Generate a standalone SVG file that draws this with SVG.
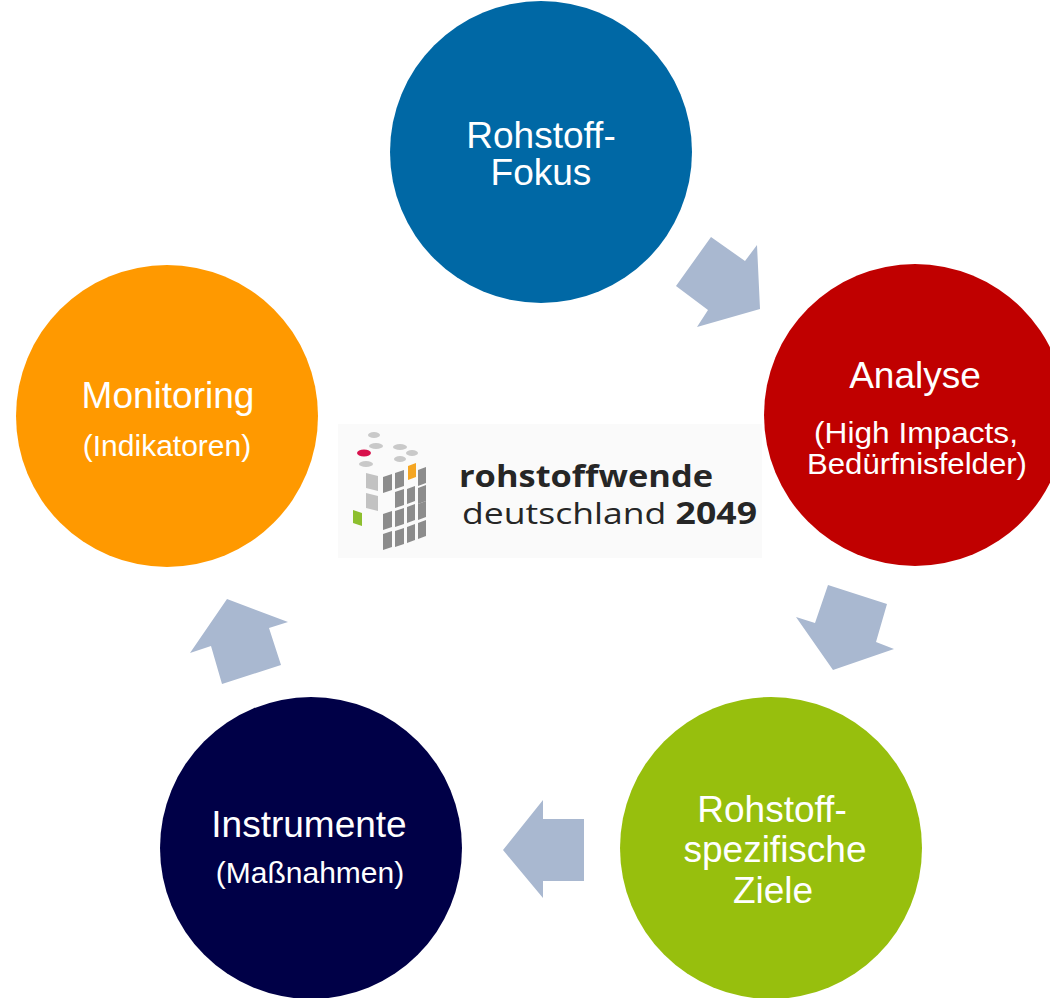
<svg xmlns="http://www.w3.org/2000/svg" width="1050" height="998" viewBox="0 0 1050 998">
<style>
.t{font-family:"Liberation Sans",Arial,sans-serif;fill:#fff;text-anchor:middle}
.h{font-size:37px}
.s{font-size:30px}
.s2{font-size:29px}
.arr{fill:#a9b8d0}
.lg{font-family:"Open Sans","DejaVu Sans",sans-serif;fill:#262626;font-size:30px}
.tl{fill:#c9c9c9}
.rf{fill:#8c8c8c}
.lf{fill:#c2c2c2}
</style>
<rect width="1050" height="998" fill="#fff"/>
<g id="connectors">
<polygon class="arr" points="711,237 745,261 757,245 760,309 697,327 708,310 676,286"/>
<polygon class="arr" points="828,585 887,604 876,642 894,649 833,670 796,617 815,623"/>
<polygon class="arr" points="584,819 543,819 543,800 503,850 543,898 543,881 584,881"/>
<polygon class="arr" points="281,665 269,628 288,622 227,599 190,653 211,646 222,684"/>
</g>
<g id="node-rohstoff-fokus">
<circle cx="541" cy="152" r="151" fill="#0068a5"/>
<text class="t h" x="541" y="148">Rohstoff-</text>
<text class="t h" x="541" y="185">Fokus</text>
</g>
<g id="node-analyse">
<circle cx="915" cy="415" r="151" fill="#c00000"/>
<text class="t h" x="915" y="388">Analyse</text>
<text class="t s2" x="916" y="443" textLength="204" lengthAdjust="spacingAndGlyphs">(High Impacts,</text>
<text class="t s2" x="917" y="474" textLength="220" lengthAdjust="spacingAndGlyphs">Bedürfnisfelder)</text>
</g>
<g id="node-ziele">
<circle cx="771" cy="848" r="151" fill="#97bf0d"/>
<text class="t h" x="772" y="822">Rohstoff-</text>
<text class="t h" x="775" y="862">spezifische</text>
<text class="t h" x="773" y="903">Ziele</text>
</g>
<g id="node-instrumente">
<circle cx="311" cy="848" r="151" fill="#000047"/>
<text class="t h" x="309" y="837">Instrumente</text>
<text class="t s" x="310" y="883">(Maßnahmen)</text>
</g>
<g id="node-monitoring">
<circle cx="167" cy="416" r="151" fill="#ff9900"/>
<text class="t h" x="168" y="408">Monitoring</text>
<text class="t s" x="167" y="456">(Indikatoren)</text>
</g>
<g id="logo">
<rect x="338" y="424" width="424" height="134" fill="#fafafa"/>
<ellipse class="tl" cx="374" cy="435" rx="6" ry="3"/>
<ellipse class="tl" cx="376" cy="446" rx="7" ry="3"/>
<ellipse cx="364" cy="453" rx="7" ry="3.5" fill="#d8114c"/>
<ellipse class="tl" cx="400" cy="447" rx="7" ry="3"/>
<ellipse class="tl" cx="412" cy="453" rx="6" ry="3"/>
<ellipse class="tl" cx="366" cy="464" rx="7" ry="3"/>
<ellipse class="tl" cx="400" cy="459" rx="6" ry="3"/>
<polygon points="408,466 416,463 416,477 408,480" fill="#f5a623"/>
<polygon class="lf" points="366,473 378,476 378,491 366,488"/>
<polygon class="lf" points="366,493 378,496 378,511 366,508"/>
<polygon points="353,510 362,513 362,526 353,523" fill="#8dbf2e"/>
<polygon class="rf" points="383,477 392,474 392,490 383,493"/>
<polygon class="rf" points="395,473 404,470 404,486 395,489"/>
<polygon class="rf" points="418,470 426,467 426,483 418,486"/>
<polygon class="rf" points="395,492 404,489 404,505 395,508"/>
<polygon class="rf" points="407,489 415,486 415,501 407,504"/>
<polygon class="rf" points="418,488 426,485 426,501 418,504"/>
<polygon class="rf" points="383,514 392,511 392,527 383,530"/>
<polygon class="rf" points="395,511 404,508 404,524 395,527"/>
<polygon class="rf" points="407,507 415,504 415,520 407,523"/>
<polygon class="rf" points="418,504 426,501 426,517 418,520"/>
<polygon class="rf" points="383,534 392,531 392,547 383,550"/>
<polygon class="rf" points="395,531 404,528 404,544 395,547"/>
<polygon class="rf" points="407,527 415,524 415,540 407,543"/>
<polygon class="rf" points="418,523 426,520 426,536 418,539"/>
<text class="lg" x="459" y="487" font-weight="bold" textLength="254" lengthAdjust="spacingAndGlyphs">rohstoffwende</text>
<text class="lg" x="462" y="524" textLength="295" lengthAdjust="spacingAndGlyphs">deutschland <tspan font-weight="bold">2049</tspan></text>
</g>
</svg>
